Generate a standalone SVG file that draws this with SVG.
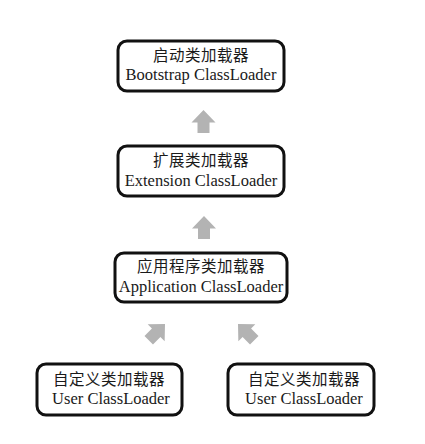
<svg xmlns="http://www.w3.org/2000/svg" width="425" height="444" viewBox="0 0 425 444">
<style>
.box{fill:#ffffff;stroke:#111111;stroke-width:3}
.zh{font-family:"Noto Sans CJK SC","Liberation Serif",serif;font-size:15.5px;fill:#1a1a1a;text-anchor:middle;letter-spacing:0.5px}
.en{font-family:"Liberation Serif",serif;font-size:16.5px;fill:#1a1a1a;text-anchor:middle}
.arr{fill:#b3b3b3}
</style>
<defs>
<path id="up" d="M0,0 L12,12.5 L6,12.5 L6,23 L-6,23 L-6,12.5 L-12,12.5 Z"/>
</defs>
<rect width="425" height="444" fill="#ffffff"/>
<g id="connectors">
<use href="#up" class="arr" transform="translate(203.5,110)"/>
<use href="#up" class="arr" transform="translate(204,216)"/>
<use href="#up" class="arr" transform="translate(165,324) rotate(45)"/>
<use href="#up" class="arr" transform="translate(238,324) rotate(-45)"/>
</g>
<g id="bootstrap">
<rect class="box" x="118" y="41" width="166" height="50" rx="9"/>
<text class="zh" x="201" y="60.5">启动类加载器</text>
<text class="en" x="201" y="80">Bootstrap ClassLoader</text>
</g>
<g id="extension">
<rect class="box" x="118" y="146" width="166" height="50" rx="9"/>
<text class="zh" x="201" y="165.5">扩展类加载器</text>
<text class="en" x="201" y="186">Extension ClassLoader</text>
</g>
<g id="application">
<rect class="box" x="115" y="253" width="172" height="49" rx="9"/>
<text class="zh" x="201" y="272">应用程序类加载器</text>
<text class="en" x="201" y="292">Application ClassLoader</text>
</g>
<g id="user1">
<rect class="box" x="37" y="364" width="145" height="51" rx="9"/>
<text class="zh" x="109" y="384.5">自定义类加载器</text>
<text class="en" x="111" y="404">User ClassLoader</text>
</g>
<g id="user2">
<rect class="box" x="228" y="364" width="146" height="51" rx="9"/>
<text class="zh" x="304" y="384.5">自定义类加载器</text>
<text class="en" x="304" y="404">User ClassLoader</text>
</g>
</svg>
